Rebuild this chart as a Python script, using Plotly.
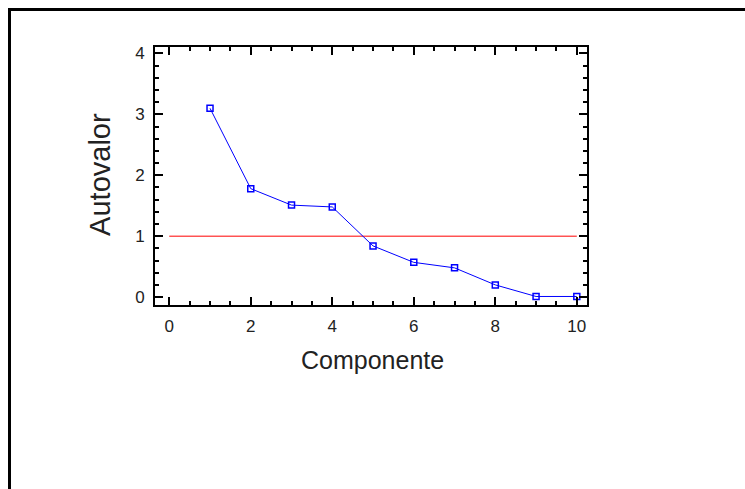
import plotly.graph_objects as go

# Data
componente = [1, 2, 3, 4, 5, 6, 7, 8, 9, 10]
autovalor = [3.10, 1.78, 1.51, 1.48, 0.84, 0.57, 0.48, 0.20, 0.01, 0.01]
ref_x = [0, 10]
ref_y = [1, 1]
x_ticks = [0, 2, 4, 6, 8, 10]
y_ticks = [0, 1, 2, 3, 4]
title_text = "Gráfico 1: Sedimentación de factores"

W, H = 745, 489
L, R, T, B = 155, 587, 9, 305   # full drawing area in pixels (incl. title strip)
PLOT_TOP = 45                   # top of the main plot frame
STRIP_BOTTOM = 30               # bottom of the title strip


def px(x):
    return (x - L) / (R - L)


def py(y):
    return (B - y) / (B - T)


font = "Liberation Sans, Arial, sans-serif"

fig = go.Figure()
fig.add_trace(go.Scatter(
    x=ref_x, y=ref_y, mode="lines",
    line=dict(color="#ff0000", width=1), showlegend=False, hoverinfo="skip"))
fig.add_trace(go.Scatter(
    x=componente, y=autovalor, mode="lines+markers",
    line=dict(color="#0000ff", width=1),
    marker=dict(symbol="square-open", size=6, color="#0000ff", line=dict(width=1.5)),
    showlegend=False))
# title: cut off at the top edge of the page, as in the reference
fig.add_trace(go.Scatter(
    x=[(L + R) / 2 - 1], y=[14.5], mode="text", text=[title_text],
    textposition="top center", cliponaxis=True,
    textfont=dict(size=24, family=font, color="#555555"),
    xaxis="x2", yaxis="y2", showlegend=False, hoverinfo="skip"))

fig.update_layout(
    width=W, height=H,
    margin=dict(l=L, r=W - R, t=T, b=H - B, pad=0),
    paper_bgcolor="white", plot_bgcolor="white",
    font=dict(family=font, color="#222222"),
    xaxis=dict(
        range=[-0.35, 10.25], tickmode="array", tickvals=x_ticks,
        ticks="inside", ticklen=8, tickwidth=2, tickcolor="black",
        showline=True, linewidth=2, linecolor="black", mirror="ticks",
        showgrid=False, zeroline=False,
        tickfont=dict(size=17, family=font, color="#222222"),
        ticklabelstandoff=5,
        minor=dict(dtick=0.5, ticks="inside", ticklen=4, tickwidth=1.5,
                   tickcolor="black", showgrid=False),
    ),
    yaxis=dict(
        domain=[0, py(PLOT_TOP)],
        range=[-0.13, 4.11], tickmode="array", tickvals=y_ticks,
        ticks="inside", ticklen=8, tickwidth=2, tickcolor="black",
        showline=True, linewidth=2, linecolor="black", mirror="ticks",
        showgrid=False, zeroline=False,
        tickfont=dict(size=17, family=font, color="#222222"),
        ticklabelstandoff=5,
        minor=dict(dtick=0.2, ticks="inside", ticklen=4, tickwidth=1.5,
                   tickcolor="black", showgrid=False),
    ),
    xaxis2=dict(domain=[0, 1], range=[L, R], visible=False, anchor="y2",
                fixedrange=True),
    yaxis2=dict(domain=[py(STRIP_BOTTOM), 1], range=[STRIP_BOTTOM, T],
                visible=False, anchor="x2", fixedrange=True),
)

annotations = [
    dict(text="Componente", x=px(372), y=py(360), xref="paper", yref="paper",
         xanchor="center", yanchor="middle", showarrow=False,
         font=dict(size=25, family=font, color="#222222")),
    dict(text="Autovalor", x=px(100), y=py(174), xref="paper", yref="paper",
         xanchor="center", yanchor="middle", showarrow=False, textangle=-90,
         font=dict(size=29, family=font, color="#222222")),
]
fig.update_layout(annotations=annotations)

# page frame: top and left black lines
fig.add_shape(type="rect", xref="paper", yref="paper",
              x0=px(8), x1=px(W + 10), y0=py(9), y1=py(6),
              fillcolor="black", line=dict(width=0), layer="above")
fig.add_shape(type="rect", xref="paper", yref="paper",
              x0=px(8), x1=px(11), y0=py(H + 10), y1=py(6),
              fillcolor="black", line=dict(width=0), layer="above")

post = (
    "document.body.style.margin='0px';"
    "document.body.style.overflow='hidden';"
    "var c=document.createElement('div');"
    "c.style.cssText='position:fixed;left:0;top:0;width:745px;height:6px;"
    "background:#ffffff;z-index:1000;pointer-events:none';"
    "document.body.appendChild(c);"
)
fig.write_html("out.html", config={"displayModeBar": False}, post_script=post)
